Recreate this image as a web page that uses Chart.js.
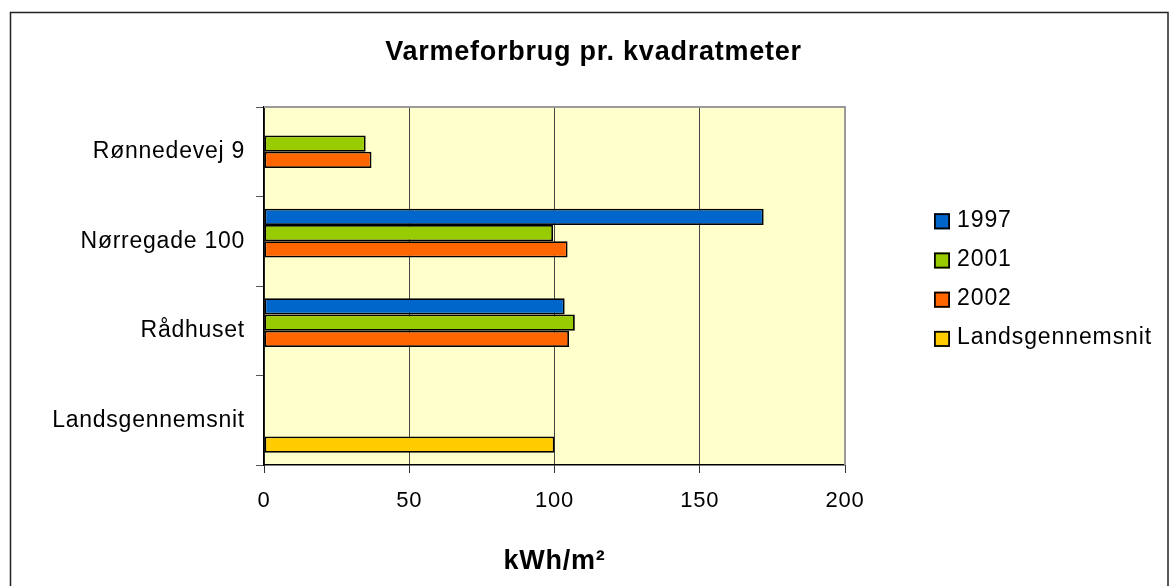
<!DOCTYPE html>
<html>
<head>
<meta charset="utf-8">
<script src="https://cdn.jsdelivr.net/npm/chart.js@4.4.1/dist/chart.umd.min.js"></script>
<style>
  html, body { margin: 0; padding: 0; background: #fff; }
  canvas { display: block; }
</style>
</head>
<body>
<canvas id="c" width="1169" height="586"></canvas>
<script>
// ---- data ----
const chartTitle = 'Varmeforbrug pr. kvadratmeter';
const axisTitle = 'kWh/m²';
const categories = ['Rønnedevej 9', 'Nørregade 100', 'Rådhuset', 'Landsgennemsnit'];
const seriesNames = ['1997', '2001', '2002', 'Landsgennemsnit'];
const values1997 = [null, 172, 103.5, null];
const values2001 = [35, 99.5, 107, null];
const values2002 = [37, 104.5, 105, null];
const valuesLands = [null, null, null, 100];
const xTicks = [0, 50, 100, 150, 200];
const seriesColors = ['#0066CC', '#99CC00', '#FF6600', '#FFCC00'];

const FONT = "'Liberation Sans', Arial, sans-serif";
Chart.defaults.font.family = FONT;
Chart.defaults.color = '#000';

const seriesValues = [values1997, values2001, values2002, valuesLands];
const SPACING = '0.75px';

const spacingPlugin = {
  id: 'spacing',
  beforeUpdate(chart) { chart.ctx.letterSpacing = SPACING; },
  beforeLayout(chart) { chart.ctx.letterSpacing = SPACING; },
  beforeDraw(chart) { chart.ctx.letterSpacing = SPACING; }
};

const framePlugin = {
  id: 'frame',
  beforeDraw(chart) {
    const ctx = chart.ctx, a = chart.chartArea;
    ctx.save();
    ctx.fillStyle = '#fff';
    ctx.fillRect(0, 0, chart.width, chart.height);
    ctx.strokeStyle = '#222';
    ctx.lineWidth = 1.5;
    ctx.strokeRect(10.5, 12.5, 1157.5, 620);
    ctx.fillStyle = '#FFFFCC';
    ctx.fillRect(a.left, a.top, a.right - a.left, a.bottom - a.top);
    ctx.restore();
  },
  beforeDatasetsDraw(chart) {
    const ctx = chart.ctx, a = chart.chartArea;
    ctx.save();
    ctx.strokeStyle = '#9a9a9a';
    ctx.lineWidth = 2;
    ctx.beginPath();
    ctx.moveTo(a.left, a.top);
    ctx.lineTo(a.right, a.top);
    ctx.lineTo(a.right, a.bottom);
    ctx.stroke();
    ctx.restore();
  }
};

const legendPlugin = {
  id: 'sideLegend',
  afterDraw(chart) {
    const ctx = chart.ctx, a = chart.chartArea;
    ctx.save();
    ctx.letterSpacing = '0.9px';
    ctx.font = '23px ' + FONT;
    ctx.textBaseline = 'middle';
    ctx.textAlign = 'left';
    chart.data.datasets.forEach((ds, i) => {
      const cy = a.top + 114.3 + i * 39.2;
      const bx = a.right + 89;
      ctx.fillStyle = ds.backgroundColor;
      ctx.fillRect(bx, cy - 8, 16, 16);
      ctx.lineWidth = 1.8;
      ctx.strokeStyle = '#000';
      ctx.strokeRect(bx + 0.9, cy - 8 + 0.9, 14.2, 14.2);
      ctx.fillStyle = '#000';
      ctx.fillText(ds.label, bx + 23, cy - 1);
    });
    ctx.restore();
  }
};

new Chart(document.getElementById('c'), {
  type: 'bar',
  data: {
    labels: categories,
    datasets: seriesNames.map((name, i) => ({
      label: name,
      data: seriesValues[i],
      backgroundColor: seriesColors[i],
      borderColor: '#000',
      borderWidth: 1.8,
      borderSkipped: false,
      categoryPercentage: 0.725,
      barPercentage: 1
    }))
  },
  options: {
    indexAxis: 'y',
    responsive: false,
    devicePixelRatio: 1,
    animation: false,
    events: [],
    layout: { padding: { left: 18, right: 0, top: 0, bottom: 0 } },
    plugins: {
      legend: { display: false },
      tooltip: { enabled: false },
      title: {
        display: true,
        text: chartTitle,
        font: { size: 27, weight: 'bold' },
        color: '#000',
        padding: { top: 36, bottom: 38.6 }
      }
    },
    scales: {
      x: {
        type: 'linear',
        position: 'bottom',
        min: xTicks[0],
        max: xTicks[xTicks.length - 1],
        afterBuildTicks(scale) { scale.ticks = xTicks.map(v => ({ value: v })); },
        ticks: { font: { size: 22 }, padding: 14.5, color: '#000' },
        grid: {
          color: c => (c.tick && c.tick.value === xTicks[xTicks.length - 1]) ? 'rgba(0,0,0,0)' : '#444',
          lineWidth: 1,
          tickLength: 8,
          tickColor: '#333'
        },
        border: { color: '#000', width: 1.5 },
        title: {
          display: true,
          text: axisTitle,
          font: { size: 27, weight: 'bold' },
          color: '#000',
          padding: { top: 0, bottom: 8.5 }
        },
        afterFit(scale) { scale.height = 121; }
      },
      y: {
        type: 'category',
        position: 'left',
        ticks: { font: { size: 23 }, padding: 11, color: '#000' },
        grid: {
          drawOnChartArea: false,
          drawTicks: true,
          tickLength: 8,
          color: '#555',
          tickColor: '#555'
        },
        border: { color: '#000', width: 1.5 },
        afterFit(scale) { scale.width = 246; }
      },
      rpad: {
        type: 'linear',
        position: 'right',
        display: true,
        ticks: { display: false },
        grid: { display: false, drawTicks: false },
        border: { display: false },
        afterFit(scale) { scale.width = 324; }
      }
    }
  },
  plugins: [spacingPlugin, framePlugin, legendPlugin]
});
</script>
</body>
</html>
